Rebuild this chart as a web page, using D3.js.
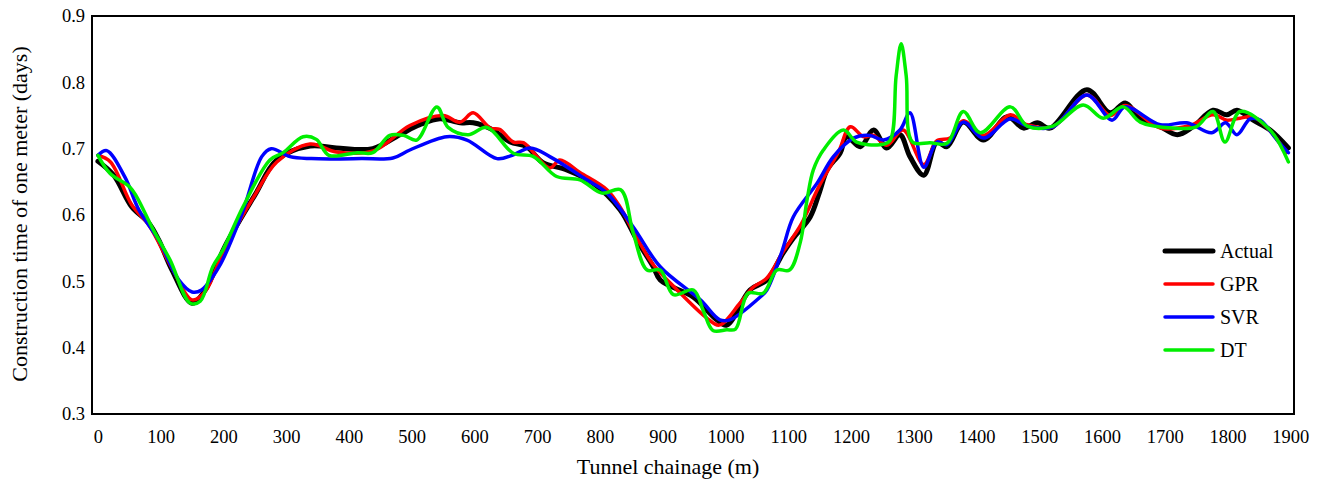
<!DOCTYPE html>
<html><head><meta charset="utf-8">
<script src="https://cdn.jsdelivr.net/npm/d3@7"></script>
<style>body{margin:0;background:#fff}svg text{font-family:"Liberation Serif","Times New Roman",serif;fill:#000}</style>
</head><body><svg id="c" width="1320" height="484"></svg>
<script>
const xTicks=[0,100,200,300,400,500,600,700,800,900,1000,1100,1200,1300,1400,1500,1600,1700,1800,1900];
const yTicks=[0.3,0.4,0.5,0.6,0.7,0.8,0.9];
const seriesNames=["Actual","GPR","SVR","DT"];
const seriesColors=["#000000","#ff0000","#0000ff","#00ee00"];

const actualX=[0,25,54,81,97,118,150,171,202,250,285,338,380,438,481,513,545,577,598,630,657,683,709,747,789,832,859,885,896,949,986,1002,1039,1066,1092,1108,1135,1150,1162,1183,1193,1215,1236,1257,1278,1294,1316,1337,1353,1379,1411,1449,1475,1497,1517,1576,1613,1637,1661,1693,1720,1745,1777,1799,1815,1841,1868,1897];
const actualY=[0.681,0.66,0.612,0.588,0.562,0.517,0.467,0.487,0.552,0.63,0.683,0.704,0.701,0.70,0.721,0.736,0.745,0.739,0.739,0.728,0.71,0.703,0.679,0.668,0.648,0.608,0.562,0.522,0.502,0.476,0.442,0.434,0.487,0.502,0.543,0.565,0.597,0.635,0.668,0.694,0.718,0.703,0.728,0.701,0.721,0.688,0.66,0.71,0.703,0.74,0.713,0.748,0.731,0.739,0.731,0.789,0.754,0.769,0.746,0.733,0.721,0.733,0.758,0.751,0.758,0.743,0.728,0.701];

const gprX=[0,20,54,81,118,150,171,202,250,285,338,380,440,497,550,577,598,625,640,662,678,720,736,768,811,832,859,885,920,970,990,1023,1044,1066,1092,1120,1150,1180,1199,1220,1236,1257,1283,1316,1337,1358,1379,1411,1454,1481,1522,1576,1613,1637,1693,1740,1777,1799,1820,1841,1862,1894];
const gprY=[0.69,0.68,0.615,0.585,0.52,0.472,0.485,0.55,0.63,0.68,0.707,0.695,0.697,0.735,0.75,0.74,0.754,0.731,0.729,0.71,0.709,0.671,0.683,0.664,0.638,0.612,0.565,0.525,0.49,0.445,0.434,0.467,0.491,0.505,0.545,0.585,0.645,0.695,0.733,0.718,0.72,0.705,0.728,0.676,0.712,0.716,0.742,0.72,0.751,0.736,0.733,0.781,0.75,0.765,0.731,0.735,0.751,0.743,0.746,0.748,0.733,0.694];

const svrX=[0,14,43,65,97,129,150,165,193,230,261,276,306,340,420,470,497,556,588,636,660,689,720,779,811,853,896,960,991,1007,1055,1066,1090,1108,1146,1172,1204,1230,1252,1278,1294,1316,1337,1353,1379,1411,1454,1481,1522,1576,1616,1637,1693,1735,1775,1797,1815,1836,1852,1879,1897];
const svrY=[0.69,0.697,0.657,0.608,0.562,0.502,0.484,0.487,0.522,0.603,0.688,0.70,0.688,0.685,0.685,0.686,0.698,0.718,0.713,0.685,0.69,0.701,0.688,0.653,0.633,0.582,0.522,0.472,0.442,0.442,0.476,0.487,0.545,0.597,0.648,0.688,0.716,0.72,0.713,0.728,0.754,0.672,0.71,0.706,0.74,0.716,0.745,0.734,0.733,0.781,0.743,0.763,0.736,0.739,0.724,0.739,0.721,0.745,0.743,0.713,0.694];

const dtX=[0,19,51,62,88,115,147,163,183,199,231,274,295,327,348,368,413,438,465,487,508,540,558,590,620,662,694,731,768,803,833,853,875,896,917,949,965,980,1002,1016,1036,1060,1082,1102,1119,1130,1140,1156,1188,1209,1246,1262,1272,1280,1288,1298,1326,1353,1379,1406,1454,1481,1522,1570,1602,1634,1661,1713,1750,1777,1796,1820,1868,1897];
const dtY=[0.69,0.663,0.642,0.627,0.578,0.532,0.467,0.47,0.522,0.547,0.612,0.683,0.694,0.718,0.714,0.69,0.694,0.694,0.72,0.72,0.713,0.763,0.732,0.721,0.732,0.693,0.688,0.658,0.653,0.633,0.638,0.573,0.517,0.517,0.48,0.487,0.455,0.426,0.427,0.428,0.482,0.482,0.517,0.517,0.558,0.623,0.668,0.698,0.728,0.71,0.706,0.712,0.81,0.858,0.81,0.71,0.709,0.708,0.756,0.724,0.763,0.734,0.734,0.766,0.746,0.763,0.74,0.731,0.733,0.756,0.71,0.756,0.728,0.68];

const seriesX=[actualX,gprX,svrX,dtX];
const seriesY=[actualY,gprY,svrY,dtY];
const widths=[5,3.5,3.5,3.5];

const svg=d3.select("#c");
const L=92,R=1294,T=16,B=414;
const x=d3.scaleLinear().domain([-9.5,1906]).range([L,R]);
const y=d3.scaleLinear().domain([0.3,0.9]).range([B,T]);

const line=d3.line().x(d=>x(d[0])).y(d=>y(d[1])).curve(d3.curveCatmullRom.alpha(0.5));
seriesNames.forEach((n,i)=>{
  const pts=seriesX[i].map((v,j)=>[v,seriesY[i][j]]);
  svg.append("path").attr("d",line(pts)).attr("fill","none")
    .attr("stroke",seriesColors[i]).attr("stroke-width",widths[i])
    .attr("stroke-linejoin","round").attr("stroke-linecap","round");
});

svg.append("rect").attr("x",L).attr("y",T).attr("width",R-L).attr("height",B-T)
  .attr("fill","none").attr("stroke","#000").attr("stroke-width",2);

const gx=svg.append("g").attr("transform",`translate(0,${B})`)
  .call(d3.axisBottom(x).tickValues(xTicks).tickSize(0).tickPadding(16).tickFormat(d3.format("d")));
gx.select(".domain").remove();
gx.selectAll("text").attr("font-size",18.5).style("font-family","Liberation Serif");
const gy=svg.append("g").attr("transform",`translate(${L},0)`)
  .call(d3.axisLeft(y).tickValues(yTicks).tickSize(0).tickPadding(7).tickFormat(d3.format(".1f")));
gy.select(".domain").remove();
gy.selectAll("text").attr("font-size",18.5).style("font-family","Liberation Serif");

svg.append("text").attr("x",668).attr("y",474).attr("text-anchor","middle")
  .attr("font-size",22).text("Tunnel chainage (m)");
svg.append("text").attr("transform","translate(27,214) rotate(-90)").attr("text-anchor","middle")
  .attr("font-size",22).text("Construction time of one meter (days)");

const lg=svg.append("g");
seriesNames.forEach((n,i)=>{
  const yy=251+i*33;
  lg.append("line").attr("x1",1165).attr("x2",1213).attr("y1",yy).attr("y2",yy)
    .attr("stroke",seriesColors[i]).attr("stroke-width",widths[i]).attr("stroke-linecap","round");
  lg.append("text").attr("x",1220).attr("y",yy+7).attr("font-size",20).text(n);
});
</script></body></html>
